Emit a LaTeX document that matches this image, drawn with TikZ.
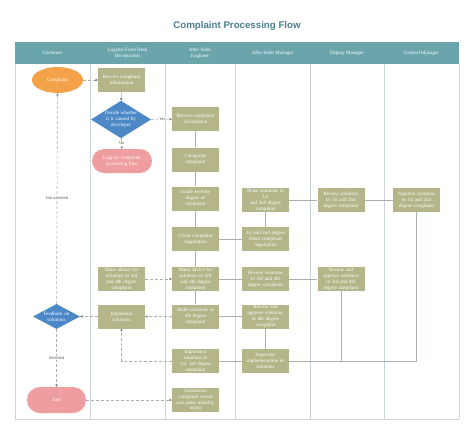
\documentclass[tikz,border=0pt]{standalone}
\usepackage{fontspec}
\setmainfont{Liberation Serif}
\setsansfont{Liberation Sans}
\newfontfamily\titlefont{Liberation Sans}
\usetikzlibrary{shapes.geometric,arrows.meta}
\definecolor{olive}{HTML}{B4B68A}
\definecolor{orangec}{HTML}{F5A34A}
\definecolor{bluec}{HTML}{4C87C6}
\definecolor{pinkc}{HTML}{EE9E9E}
\definecolor{headc}{HTML}{6AA5AC}
\definecolor{titlec}{HTML}{4A7E8F}
\definecolor{lanec}{HTML}{C9D3D9}
\definecolor{linec}{HTML}{A9AFB1}
\definecolor{arrc}{HTML}{5A5F61}
\tikzset{
  txt/.style={text=white,font=\fontsize{5}{5.9}\selectfont,align=center,inner sep=0pt},
  box/.style={txt,fill=olive,minimum width=47pt,minimum height=24pt,text width=46pt},
  dia/.style={txt,fill=bluec,diamond},
  term/.style={txt,fill=pinkc,rounded corners=12pt},
  hdr/.style={text=white,font=\fontsize{5}{5.9}\selectfont,align=center,inner sep=0pt},
  conn/.style={draw=linec,line width=0.6pt},
  dconn/.style={draw=linec,line width=0.6pt,dash pattern=on 3pt off 2pt,-{Stealth[length=2.6pt,width=2.2pt,color=arrc]}},
  sconn/.style={draw=linec,line width=0.6pt,-{Stealth[length=2.6pt,width=2.2pt,color=arrc]}},
  lbl/.style={fill=white,inner sep=0.8pt,text=arrc,font=\sffamily\fontsize{4}{4.5}\selectfont}
}
\begin{document}
\begin{tikzpicture}[x=1pt,y=-1pt]
\useasboundingbox (0,0) rectangle (474,436);
% title
\node[text=titlec,font=\titlefont\bfseries\fontsize{9.7}{11}\selectfont] (title) at (237,26) {Complaint Processing Flow};
% table
\fill[headc] (15,42) rectangle (459,64);
\foreach \x in {15,90,165,235,310,384,459} \draw[lanec,line width=0.7pt] (\x,64) -- (\x,419);
\draw[lanec,line width=0.7pt] (15,419) -- (459,419);
\node[hdr] (h1) at (52.5,53) {Customer};
\node[hdr] (h2) at (127.5,53) {Logistic Front Desk\\Receptionist};
\node[hdr] (h3) at (200,53) {After Sales\\Engineer};
\node[hdr] (h4) at (272.5,53) {After Sales Manager};
\node[hdr] (h5) at (347,53) {Deputy Manager};
\node[hdr] (h6) at (421.5,53) {General Manager};
% nodes
\node[txt,fill=orangec,ellipse,minimum width=51pt,minimum height=26pt] (complaint) at (57.5,80) {Complaint};
\node[box] (fdRcv) at (121.5,80) {Receive complaint\\information};
\node[dia,text width=34pt,minimum width=56pt,minimum height=35pt,shape aspect=1.6] (decide) at (121,119.5) {Decide whether\\it is caused by\\developer};
\node[term,minimum width=60pt,minimum height=24pt] (logistic) at (122,161) {Logistic complaint\\processing flow};
\node[box] (engRcv) at (195.5,119) {Receive complaint\\information};
\node[box] (categ) at (195.5,159.5) {Categorize\\complaint};
\node[box] (grade) at (195.5,198.5) {Grade severity\\degree of\\complaint};
\node[box] (clientNeg) at (195.5,239) {Client complaint\\negotiation};
\node[box] (engAdvice) at (195.5,279) {Make advice for\\solutions to 3rd\\and 4th degree\\complaint};
\node[box] (sol4) at (195.5,316.5) {Make solutions to\\4th degree\\complaint};
\node[box] (engImpl) at (195.5,361) {Implement\\solutions to\\1st, 3rd degree\\complaint};
\node[box] (summ) at (195.5,400) {Summarize\\complaint record\\and make monthly\\report};
\node[box] (asmSol12) at (265.5,200) {Make solutions to\\1st\\and 2nd degree\\complaint};
\node[box] (asmNeg) at (265.5,239) {1st and 2nd degree\\client complaint\\negotiation};
\node[box] (asmRev34) at (265.5,279) {Review solutions\\to 3rd and 4th\\degree complaint};
\node[box] (asmRev4) at (265.5,316.5) {Review and\\approve solutions\\to 4th degree\\complaint};
\node[box] (sup) at (265.5,361) {Supervise\\implementation of\\solutions};
\node[box] (dep12) at (341,200) {Review solutions\\to 1st and 2nd\\degree complaint};
\node[box] (dep34) at (341,279) {Review and\\approve solutions\\to 3rd and 4th\\degree complaint};
\node[box] (gm) at (416.5,200) {Approve solutions\\to 1st and 2nd\\degree complaint};
\node[dia,text width=26pt,minimum width=47pt,minimum height=25pt,shape aspect=1.88] (feedback) at (56.5,316.5) {Feedback on\\solutions};
\node[term,rounded corners=13pt,minimum width=59pt,minimum height=26pt] (end) at (56.5,400) {End};
\node[box] (fdAdvice) at (121.5,279) {Make advice for\\solutions to 3rd\\and 4th degree\\complaint};
\node[box] (fdImpl) at (121.5,316.5) {Implement\\solutions};
% connectors
\draw[dconn] (complaint) -- (fdRcv);
\draw[sconn] (fdRcv) -- (decide);
\draw[dconn] (decide) -- node[lbl] (no) {No} (logistic);
\draw[dconn] (decide) -- node[lbl,pos=0.55] (yes) {Yes} (engRcv);
\draw[conn] (engRcv) -- (categ);
\draw[conn] (categ) -- (grade);
\draw[conn] (grade) -- (clientNeg);
\draw[conn] (clientNeg) -- (engAdvice);
\draw[conn] (engAdvice) -- (sol4);
\draw[conn] (clientNeg) -- (asmNeg);
\draw[conn] (asmSol12) -- (asmNeg);
\draw[conn] (asmSol12) -- (dep12);
\draw[conn] (dep12) -- (gm);
\draw[conn] (gm) |- (sup);
\draw[conn] (engAdvice) -- (asmRev34);
\draw[conn] (asmRev34) -- (dep34);
\draw[conn] (dep34) |- (sup);
\draw[conn] (sol4) -- (asmRev4);
\draw[conn] (asmRev4) -- (sup);
\draw[conn] (engImpl) -- (sup);
\draw[dconn] (fdAdvice) -- (engAdvice);
\draw[dconn] (sol4) -- (fdImpl);
\draw[dconn] (engImpl) -| (fdImpl);
\draw[dconn] (fdImpl) -- (feedback);
\draw[dconn] (feedback) -- node[lbl] (sat) {Satisfied} (end);
\draw[dconn] (feedback) -- node[lbl] (nsat) {Not satisfied} (complaint);
\draw[dconn] (end) -- (summ);
\end{tikzpicture}
\end{document}
